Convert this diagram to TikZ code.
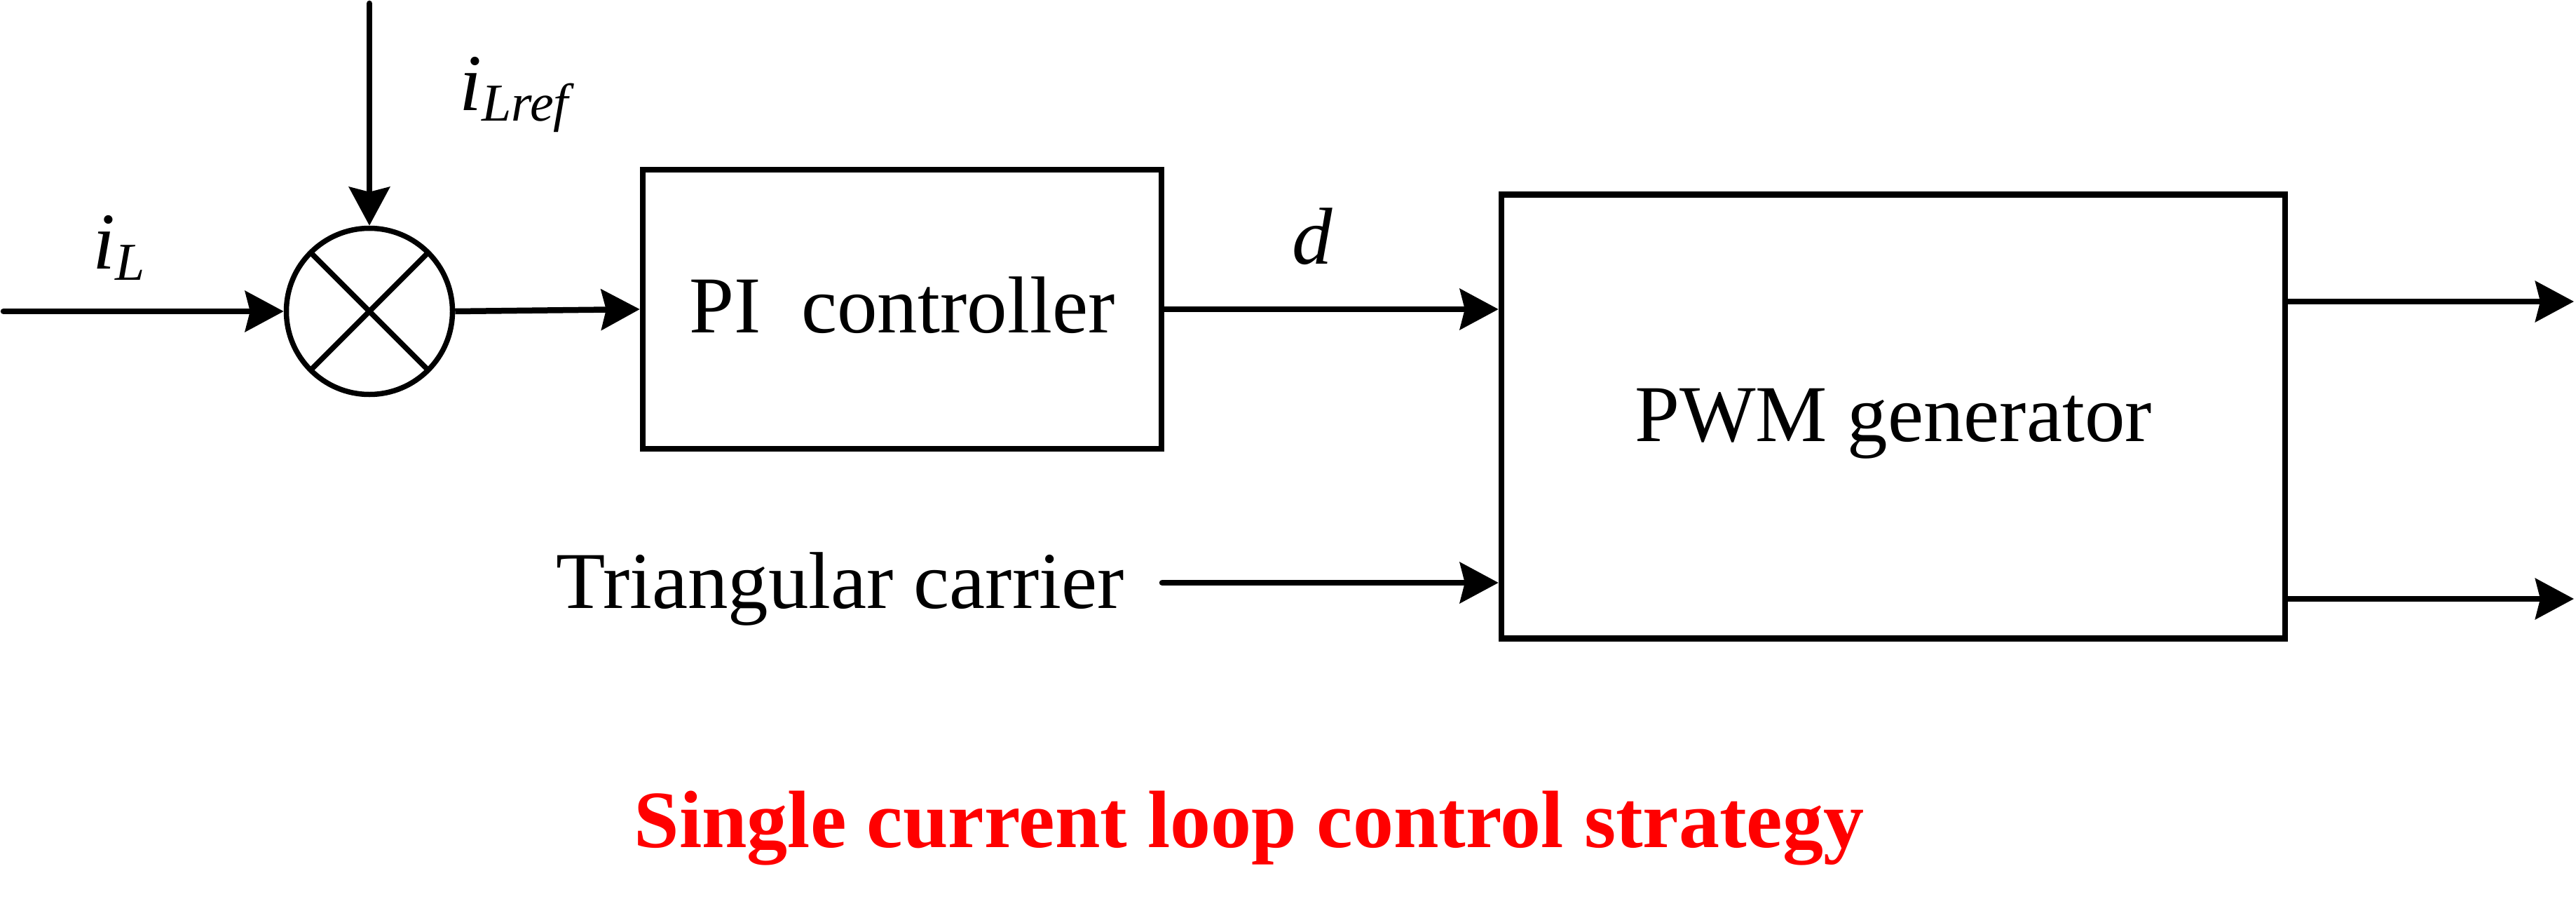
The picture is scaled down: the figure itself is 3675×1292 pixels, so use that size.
\documentclass[tikz,border=0pt]{standalone}
\usepackage{fontspec}
\setmainfont{Liberation Serif}
\usetikzlibrary{arrows.meta,calc}
\newcommand\bigfont{\fontsize{115}{130}\selectfont}
\newcommand\subfont{\fontsize{76}{80}\selectfont}
\begin{document}
\begin{tikzpicture}[x=1pt,y=-1pt,
  every path/.style={line width=8.5pt},
  arr/.style={-{Stealth[length=55pt,width=58pt,inset=7pt]}},
  blk/.style={draw,line width=8.5pt,inner sep=0pt,font=\bigfont},
  lbl/.style={inner sep=0pt,font=\bigfont}]
\useasboundingbox (0,0) rectangle (3675,1292);
% nodes
\node[draw,circle,line width=7.5pt,minimum size=237pt,inner sep=0pt] (sum) at (527,444) {};
\node[blk,minimum width=740pt,minimum height=398pt,text height=80pt,text depth=13pt] (pi) at (1287,441) {PI\ \ controller};
\node[blk,minimum width=1118pt,minimum height=633pt,text height=80pt,text depth=10pt] (pwm) at (2701,594) {PWM generator};
\node[lbl,anchor=base] (iL) at (170,383) {\itshape i\raisebox{-16pt}{\subfont L}};
\node[lbl,anchor=base] (iLref) at (733,158) {\itshape i\raisebox{-15pt}{\subfont Lref}};
\node[lbl,anchor=base] (dl) at (1872,376) {\itshape d};
\node[lbl,anchor=base east] (tri) at (1608,867) {Triangular carrier};
\node[lbl,anchor=base,font=\fontsize{116}{130}\selectfont\bfseries,text=red] (title) at (1782,1208) {Single current loop control strategy};
% coordinates
\coordinate (in) at (5,444);
\coordinate (ref) at (527,5);
\coordinate (trs) at (1658,831);
\coordinate (o1) at (3672,430);
\coordinate (o2) at (3672,854);
% cross in summing junction
\draw[line width=7.5pt] ($(sum.center)+(45:118.5)$) -- ($(sum.center)+(225:118.5)$);
\draw[line width=7.5pt] ($(sum.center)+(135:118.5)$) -- ($(sum.center)+(315:118.5)$);
% connectors
\draw[arr,line cap=round] (in) -- (sum.west);
\draw[arr,line cap=round] (ref) -- (sum.north);
\draw[arr] (sum.east) -- (pi.west);
\draw[arr] (pi.east) -- (pi.east -| pwm.west);
\draw[arr,line cap=round] (trs) -- (trs -| pwm.west);
\draw[arr] (o1 -| pwm.east) -- (o1);
\draw[arr] (o2 -| pwm.east) -- (o2);
\end{tikzpicture}
\end{document}
